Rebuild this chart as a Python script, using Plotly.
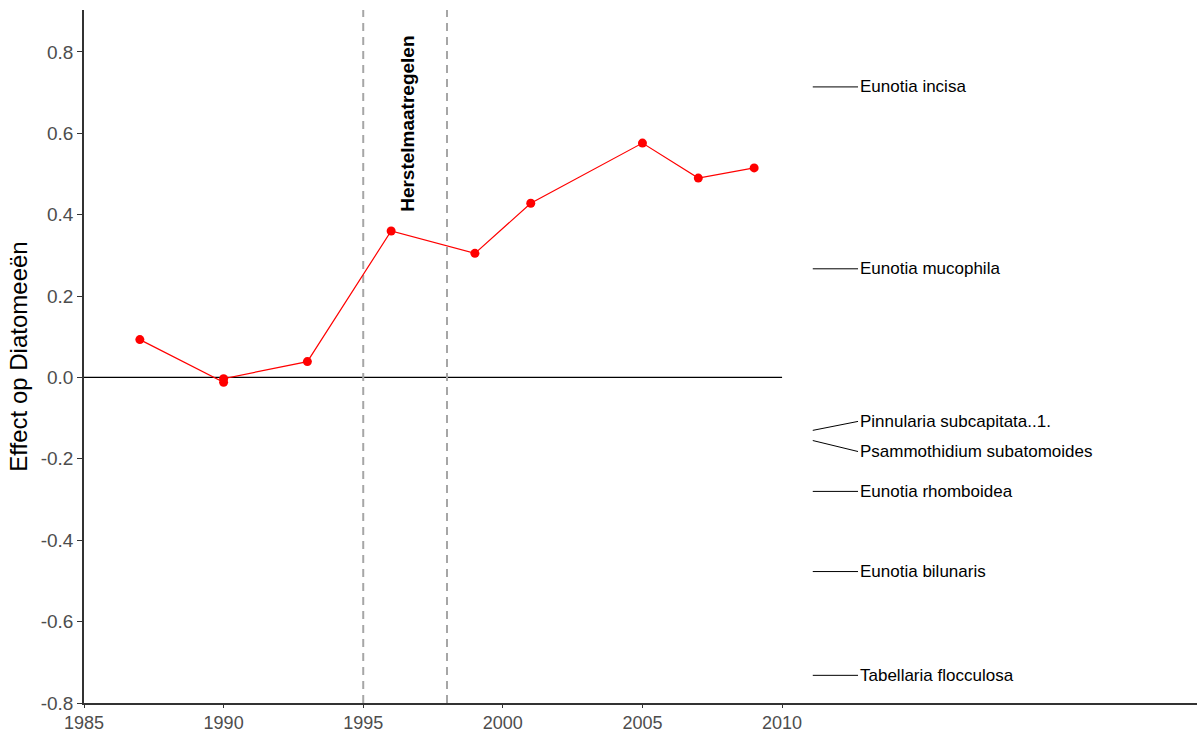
import plotly.graph_objects as go

years = [1987, 1990, 1990, 1993, 1996, 1999, 2001, 2005, 2007, 2009]
effect = [0.093, -0.012, -0.003, 0.039, 0.360, 0.305, 0.428, 0.576, 0.490, 0.515]

species = ["Eunotia incisa", "Eunotia mucophila", "Pinnularia subcapitata..1.",
           "Psammothidium subatomoides", "Eunotia rhomboidea", "Eunotia bilunaris",
           "Tabellaria flocculosa"]
species_effect = [0.714, 0.267, -0.130, -0.155, -0.280, -0.477, -0.732]
label_y = [0.714, 0.267, -0.108, -0.182, -0.280, -0.477, -0.732]

measures = [1995, 1998]
measure_label = "Herstelmaatregelen"

x_ticks = [1985, 1990, 1995, 2000, 2005, 2010]
y_ticks = [-0.8, -0.6, -0.4, -0.2, 0.0, 0.2, 0.4, 0.6, 0.8]

seg_x0, seg_x1, text_x = 2011.1, 2012.72, 2012.78
x_range = [1985, 2024.86]
y_range = [-0.8, 0.903]

fig = go.Figure()

# zero line
fig.add_trace(go.Scatter(x=[1985, 2010], y=[0, 0], mode="lines",
                         line=dict(color="black", width=1.2), hoverinfo="skip", showlegend=False))

# dashed verticals
for m in measures:
    fig.add_trace(go.Scatter(x=[m, m], y=y_range, mode="lines",
                             line=dict(color="#a6a6a6", width=2, dash="8px,6px"),
                             hoverinfo="skip", showlegend=False))

# series
fig.add_trace(go.Scatter(x=years, y=effect, mode="lines+markers",
                         line=dict(color="#ff0000", width=1.2),
                         marker=dict(color="#ff0000", size=9), showlegend=False))

# species segments and labels
for name, v, ly in zip(species, species_effect, label_y):
    fig.add_trace(go.Scatter(x=[seg_x0, seg_x1], y=[v, ly], mode="lines",
                             line=dict(color="black", width=1), hoverinfo="skip", showlegend=False))
    fig.add_annotation(x=text_x, y=ly, text=name, showarrow=False, xanchor="left",
                       yanchor="middle", xref="x", yref="y", xshift=-2,
                       font=dict(family="Liberation Sans, Arial", size=17, color="black"))

fig.add_annotation(x=1996.6, y=0.623, text="<b>" + measure_label + "</b>", textangle=-90,
                   showarrow=False, xref="x", yref="y", xanchor="center", yanchor="middle",
                   font=dict(family="Liberation Sans, Arial", size=19, color="black"))

fig.update_layout(
    width=1197, height=733,
    margin=dict(l=84, r=0, t=10, b=30),
    plot_bgcolor="white", paper_bgcolor="white",
    font=dict(family="Liberation Sans, Arial", color="#4d4d4d"),
    xaxis=dict(range=x_range, tickvals=x_ticks, ticktext=[str(t) for t in x_ticks], automargin=False,
               showgrid=False, zeroline=False, showline=True, linecolor="#333333", linewidth=1.5,
               ticks="outside", ticklen=3, tickcolor="#333333", tickfont=dict(size=18, color="#4d4d4d")),
    yaxis=dict(range=y_range, tickvals=y_ticks, ticktext=[f"{t:.1f}" for t in y_ticks], automargin=False,
               showgrid=False, zeroline=False, showline=True, linecolor="#333333", linewidth=1.5,
               ticks="outside", ticklen=5, tickcolor="#333333", tickfont=dict(size=19, color="#4d4d4d"),
               title=dict(text="Effect op Diatomeeën", font=dict(size=24, color="black"), standoff=6)),
)

fig.write_html("out.html")
